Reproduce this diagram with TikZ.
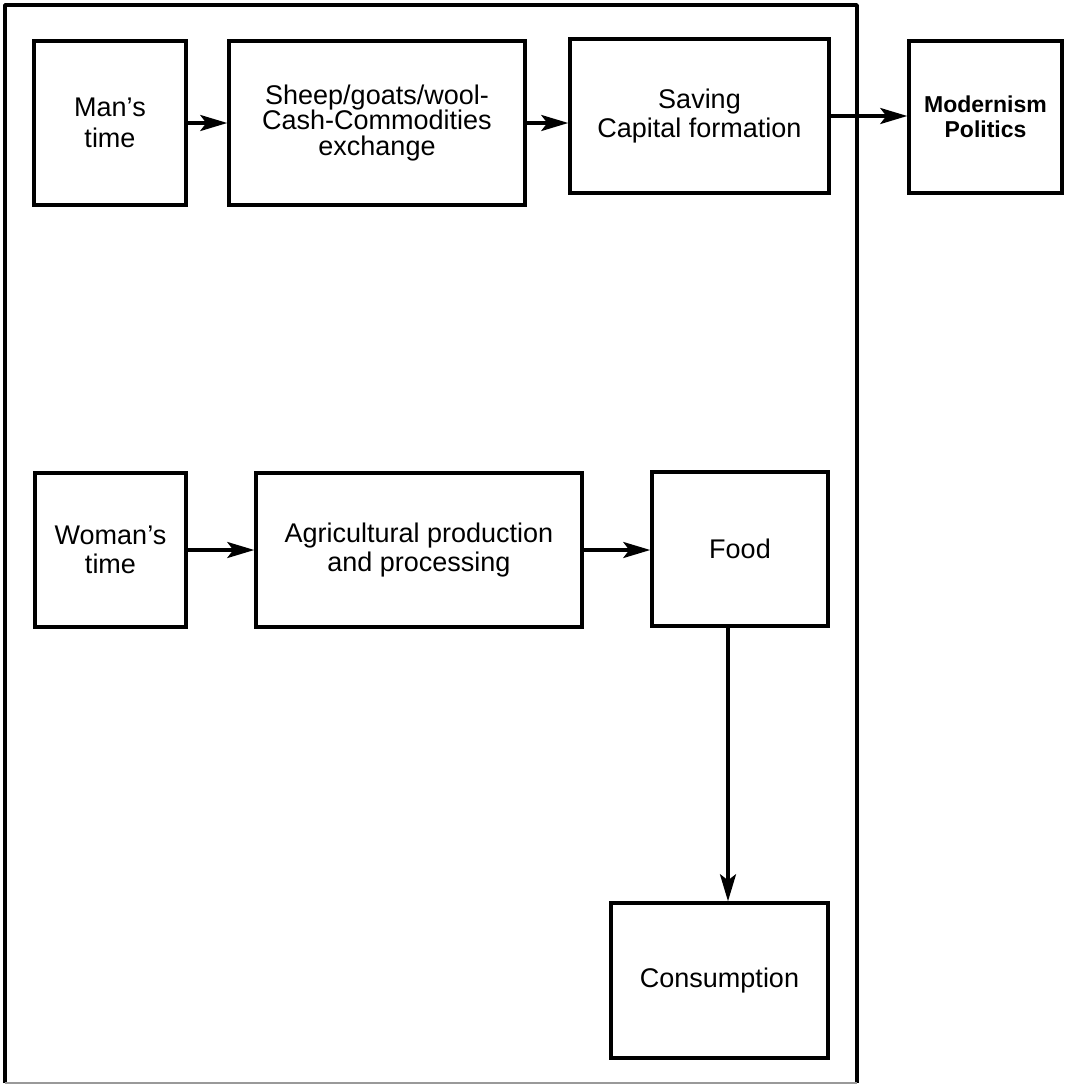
\documentclass[tikz,border=0pt]{standalone}
\usepackage{fontspec}
\setmainfont{Liberation Sans}
\usetikzlibrary{arrows.meta}
\begin{document}
\begin{tikzpicture}[x=1pt,y=-1pt,
  box/.style={draw=black,line width=3.5pt,rectangle,inner sep=0pt,align=center,
    font=\fontsize{27}{29}\selectfont},
  arr/.style={line width=3.3pt,-{Stealth[length=27pt,width=16pt,inset=6pt]}},
  frameline/.style={line width=3.5pt}]
\useasboundingbox (0,0) rectangle (1066,1087);
% outer frame
\coordinate (fbl) at (5,1083);
\coordinate (ftl) at (5,5);
\coordinate (ftr) at (857,5);
\coordinate (fbr) at (857,1083);
\draw[frameline,line join=round] (fbl) -- (ftl) -- (ftr) -- (fbr);
\draw[line width=2.5pt,black!40] (fbl) -- (fbr);
% top row
\node[box,minimum width=152pt,minimum height=164pt,font=\fontsize{27}{31}\selectfont] (man) at (110,123) {Man’s\\time};
\node[box,minimum width=296pt,minimum height=164pt,font=\fontsize{27}{25.5}\selectfont] (sheep) at (377,123) {Sheep/goats/wool-\\Cash-Commodities\\exchange};
\node[box,minimum width=259pt,minimum height=154pt] (saving) at (699.5,116) {Saving\\Capital formation};
\node[box,minimum width=153pt,minimum height=152pt,font=\fontsize{23}{25}\selectfont\bfseries] (modern) at (985.5,117) {Modernism\\Politics};
% bottom row
\node[box,minimum width=151pt,minimum height=154pt] (woman) at (110.5,550) {Woman’s\\time};
\node[box,minimum width=326pt,minimum height=154pt] (agri) at (419,550) {Agricultural production\\and processing};
\node[box,minimum width=176pt,minimum height=154pt] (food) at (740,549) {Food};
\node[box,minimum width=217pt,minimum height=155pt] (cons) at (719.5,980.5) {Consumption};
% connectors
\draw[arr] (man.east) -- (sheep.west);
\draw[arr] (sheep.east) -- (saving.west |- sheep.east);
\draw[arr] (saving.east) -- (modern.west |- saving.east);
\draw[arr] (woman.east) -- (agri.west);
\draw[arr] (agri.east) -- (food.west |- agri.east);
\coordinate (vx) at (728,0);
\draw[arr] (food.south -| vx) -- (cons.north -| vx);
\end{tikzpicture}
\end{document}
